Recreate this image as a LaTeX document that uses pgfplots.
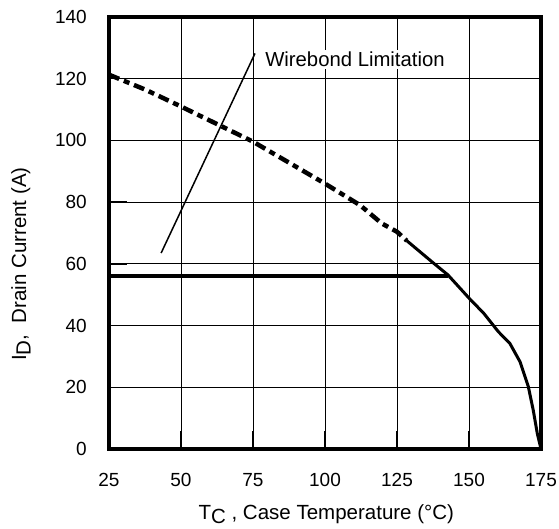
\documentclass[border=0pt]{standalone}
\usepackage{fontspec}
\setmainfont{Liberation Sans}
\usepackage{pgfplots}
\pgfplotsset{compat=1.18}
\usetikzlibrary{calc}
\begin{document}
\begin{tikzpicture}
\begin{axis}[name=ax, scale only axis, width=432bp, height=432bp,
  xmin=25, xmax=175, ymin=0, ymax=140,
  xtick={25,50,...,175}, ytick={0,20,...,140},
  grid=major, major grid style={black, line width=0.8bp},
  axis line style={line width=3.5bp},
  tick pos=left, tick align=inside, major tick length=18bp,
  tick style={black, line width=1.5bp},
  /pgf/number format/assume math mode=true,
  tick label style={font=\fontsize{19bp}{21bp}\selectfont},
  xticklabel style={anchor=base, inner sep=0pt, yshift=-37bp},
  yticklabel style={anchor=east, inner sep=0pt, xshift=-22bp},
  label style={font=\fontsize{20.5bp}{24bp}\selectfont},
  xlabel={T\raisebox{-4.5bp}{C} , Case Temperature (°C)},
  xlabel style={at={(rel axis cs:0.503,0)}, anchor=base, inner sep=0pt, yshift=-70bp},
  ylabel={I\raisebox{-4.5bp}{D},\ \ Drain Current (A)},
  ylabel style={at={(rel axis cs:-0.192,0.428)}, anchor=base, inner sep=0pt},
  clip=false,
]
\addplot[black, line width=4.5bp, dash pattern=on 11bp off 5bp on 6bp off 5bp] coordinates {
(25,121.3) (37.5,116.5) (50,111) (62.5,105.3) (75,99.6) (87.5,92.8) (100,86) (112.2,79) (119.7,73.1) (125,70.4) (128.4,67.5)};
\addplot[black, line width=3bp, line join=round] coordinates {
(128.4,67.5) (137.6,60.3) (142.7,56.4) (150.1,48.8) (155.1,44) (160.2,38) (161.9,36.4) (164.2,34.2) (167.7,28.3) (170.6,20.2) (172.3,12.6) (173.7,5.1) (175,0)};
\addplot[black, line width=4.5bp] coordinates {(25,56) (142.7,56)};
\addplot[black, line width=1.5bp] coordinates {(43.1,63.5) (75.7,128.2)};
\node[anchor=base west, fill=white, inner sep=2bp, font=\fontsize{20.3bp}{24bp}\selectfont] at (axis cs:78.5,123.9) {Wirebond Limitation};
\end{axis}
\pgfresetboundingbox
\path ($(ax.south west)+(-109bp,-80bp)$) rectangle ($(ax.north east)+(18bp,17bp)$);
\end{tikzpicture}
\end{document}
